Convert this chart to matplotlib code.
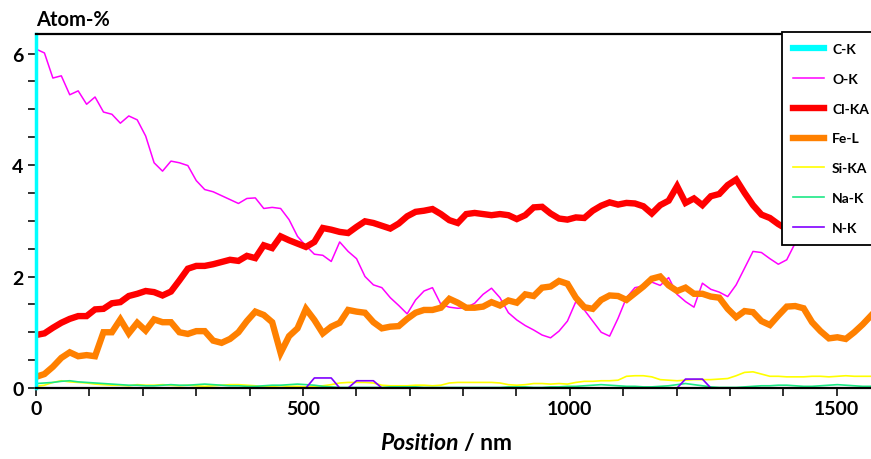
import numpy as np
import matplotlib.pyplot as plt
from matplotlib.ticker import MultipleLocator

plt.rcParams['font.family'] = ['Lato', 'DejaVu Sans']
plt.rcParams['font.weight'] = 'bold'

# line scan, one sample every ~15.8 nm
step_nm = 15.8

o_k = [6.08, 6.01, 5.56, 5.60, 5.26, 5.33, 5.09, 5.22, 4.95, 4.91,
       4.75, 4.88, 4.81, 4.52, 4.04, 3.89, 4.07, 4.04, 3.99, 3.72,
       3.56, 3.52, 3.45, 3.38, 3.31, 3.40, 3.41, 3.22, 3.24, 3.22,
       3.02, 2.72, 2.55, 2.40, 2.38, 2.27, 2.62, 2.45, 2.32, 2.00,
       1.85, 1.80, 1.62, 1.48, 1.33, 1.58, 1.74, 1.80, 1.50, 1.45,
       1.43, 1.44, 1.52, 1.68, 1.79, 1.62, 1.35, 1.22, 1.12, 1.04,
       0.95, 0.90, 1.02, 1.20, 1.55, 1.40, 1.20, 1.00, 0.93, 1.25,
       1.62, 1.80, 1.83, 1.90, 1.84, 1.98, 1.68, 1.55, 1.45, 1.88,
       1.77, 1.72, 1.64, 1.85, 2.15, 2.45, 2.43, 2.32, 2.22, 2.30,
       2.60, 2.85, 2.95, 3.00, 3.05, 3.00, 3.05, 3.00, 3.05, 3.00]

cl_ka = [0.95, 0.98, 1.08, 1.17, 1.24, 1.29, 1.29, 1.41, 1.42, 1.52,
         1.54, 1.65, 1.69, 1.74, 1.72, 1.66, 1.73, 1.93, 2.14, 2.19,
         2.19, 2.22, 2.26, 2.30, 2.28, 2.37, 2.33, 2.56, 2.51, 2.72,
         2.65, 2.59, 2.53, 2.62, 2.87, 2.84, 2.80, 2.78, 2.89, 2.99,
         2.96, 2.91, 2.86, 2.95, 3.08, 3.16, 3.18, 3.21, 3.12, 3.01,
         2.96, 3.12, 3.14, 3.12, 3.10, 3.12, 3.10, 3.03, 3.10, 3.24,
         3.25, 3.13, 3.04, 3.02, 3.06, 3.05, 3.18, 3.27, 3.33, 3.29,
         3.32, 3.31, 3.26, 3.13, 3.28, 3.36, 3.62, 3.32, 3.40, 3.28,
         3.44, 3.48, 3.64, 3.74, 3.50, 3.28, 3.11, 3.05, 2.94, 2.85,
         2.80, 2.78, 2.75, 2.78, 2.76, 2.74, 2.78, 2.75, 2.78, 2.76]

fe_l = [0.20, 0.25, 0.38, 0.54, 0.64, 0.57, 0.59, 0.57, 1.00, 1.00,
        1.23, 0.98, 1.17, 1.03, 1.23, 1.18, 1.18, 1.00, 0.97, 1.02,
        1.02, 0.85, 0.81, 0.88, 1.00, 1.20, 1.37, 1.31, 1.18, 0.63,
        0.93, 1.07, 1.42, 1.22, 0.98, 1.10, 1.17, 1.40, 1.37, 1.35,
        1.18, 1.07, 1.10, 1.11, 1.24, 1.35, 1.40, 1.40, 1.44, 1.60,
        1.53, 1.44, 1.44, 1.46, 1.54, 1.48, 1.57, 1.53, 1.68, 1.65,
        1.80, 1.82, 1.92, 1.87, 1.62, 1.45, 1.42, 1.58, 1.66, 1.65,
        1.58, 1.70, 1.82, 1.96, 2.00, 1.84, 1.74, 1.80, 1.69, 1.69,
        1.64, 1.62, 1.42, 1.27, 1.38, 1.36, 1.20, 1.13, 1.30, 1.46,
        1.47, 1.43, 1.18, 1.02, 0.89, 0.91, 0.88, 1.00, 1.14, 1.30]

si_ka = [0.03, 0.05, 0.10, 0.13, 0.11, 0.10, 0.09, 0.07, 0.06, 0.05,
         0.05, 0.04, 0.06, 0.05, 0.05, 0.06, 0.05, 0.04, 0.05, 0.04,
         0.03, 0.04, 0.05, 0.06, 0.06, 0.05, 0.04, 0.02, 0.03, 0.04,
         0.03, 0.03, 0.02, 0.03, 0.04, 0.06, 0.09, 0.10, 0.10, 0.10,
         0.09, 0.05, 0.04, 0.04, 0.04, 0.05, 0.05, 0.04, 0.05, 0.09,
         0.10, 0.10, 0.10, 0.10, 0.10, 0.09, 0.06, 0.05, 0.06, 0.08,
         0.08, 0.07, 0.08, 0.07, 0.10, 0.12, 0.12, 0.13, 0.13, 0.14,
         0.21, 0.22, 0.22, 0.20, 0.15, 0.14, 0.13, 0.14, 0.15, 0.15,
         0.15, 0.16, 0.17, 0.22, 0.28, 0.29, 0.25, 0.21, 0.21, 0.20,
         0.20, 0.20, 0.21, 0.21, 0.20, 0.21, 0.22, 0.21, 0.21, 0.21]

na_k = [0.08, 0.09, 0.10, 0.12, 0.13, 0.11, 0.10, 0.09, 0.08, 0.07,
        0.06, 0.05, 0.05, 0.04, 0.04, 0.05, 0.06, 0.05, 0.05, 0.06,
        0.07, 0.06, 0.05, 0.04, 0.04, 0.03, 0.03, 0.04, 0.05, 0.05,
        0.06, 0.07, 0.06, 0.05, 0.03, 0.02, 0.01, 0.01, 0.01, 0.01,
        0.01, 0.01, 0.02, 0.02, 0.02, 0.02, 0.01, 0.01, 0.01, 0.01,
        0.01, 0.01, 0.01, 0.01, 0.01, 0.01, 0.02, 0.02, 0.02, 0.01,
        0.01, 0.02, 0.02, 0.03, 0.03, 0.04, 0.05, 0.06, 0.05, 0.04,
        0.03, 0.03, 0.02, 0.02, 0.03, 0.04, 0.06, 0.08, 0.06, 0.04,
        0.02, 0.01, 0.01, 0.01, 0.02, 0.03, 0.04, 0.04, 0.05, 0.05,
        0.04, 0.03, 0.03, 0.04, 0.05, 0.06, 0.05, 0.04, 0.03, 0.03]

n_k = [0.0] * 100
for i in (33, 34, 35):
    n_k[i] = 0.18
for i in (38, 39, 40):
    n_k[i] = 0.13
for i in (77, 78, 79):
    n_k[i] = 0.16

pos = np.arange(len(o_k)) * step_nm

fig = plt.figure(figsize=(8.71, 4.60), dpi=100)
ax = fig.add_axes([36/871, 71/460, 835/871, 354/460])

ax.plot([], [], color='#00FFFF', lw=4.5, label='C-K')
ax.plot(pos, o_k, color='#FF00FF', lw=1.1, label='O-K')
ax.plot(pos, cl_ka, color='#FF0000', lw=4.6, label='Cl-KA', solid_joinstyle='miter')
ax.plot(pos, fe_l, color='#FF8000', lw=4.6, label='Fe-L', solid_joinstyle='miter')
ax.plot(pos, si_ka, color='#FFFF00', lw=1.2, label='Si-KA')
ax.plot(pos, na_k, color='#1EE886', lw=1.2, label='Na-K')
ax.plot(pos, n_k, color='#8000FF', lw=1.2, label='N-K')

ax.set_xlim(0, 1564)
ax.set_ylim(0, 6.35)
ax.xaxis.set_major_locator(MultipleLocator(500))
ax.xaxis.set_minor_locator(MultipleLocator(100))
ax.yaxis.set_major_locator(MultipleLocator(2))
ax.yaxis.set_minor_locator(MultipleLocator(0.5))
ax.tick_params(which='both', direction='out', length=6, width=1.3, color='#222222',
               labelsize=14, pad=3)
for lab in ax.get_xticklabels() + ax.get_yticklabels():
    lab.set_fontweight('bold')

ax.spines['right'].set_visible(False)
ax.spines['top'].set_linewidth(1.6)
ax.spines['bottom'].set_linewidth(1.6)
ax.spines['left'].set_color('#00FFFF')
ax.spines['left'].set_linewidth(2.5)

fig.text(36/871, 1 - 20/460, 'Atom-%', fontsize=14.5, fontweight='bold', va='center', ha='left')
fig.text(459/871, 16/460, 'Position', fontsize=16.5, fontweight='bold', style='italic',
         va='center', ha='right')
fig.text(464/871, 16/460, '/ nm', fontsize=16.5, fontweight='bold', va='center', ha='left')

leg = ax.legend(loc='upper left', bbox_to_anchor=(782/871, 1 - 33/460),
                bbox_transform=fig.transFigure, fancybox=False, framealpha=1,
                edgecolor='black', prop={'size': 10, 'weight': 'bold'},
                labelspacing=1.28, handlelength=2.2, handletextpad=0.6,
                borderpad=0.8, borderaxespad=0)
leg.get_frame().set_linewidth(1.3)

plt.savefig('out.png', dpi=100)
